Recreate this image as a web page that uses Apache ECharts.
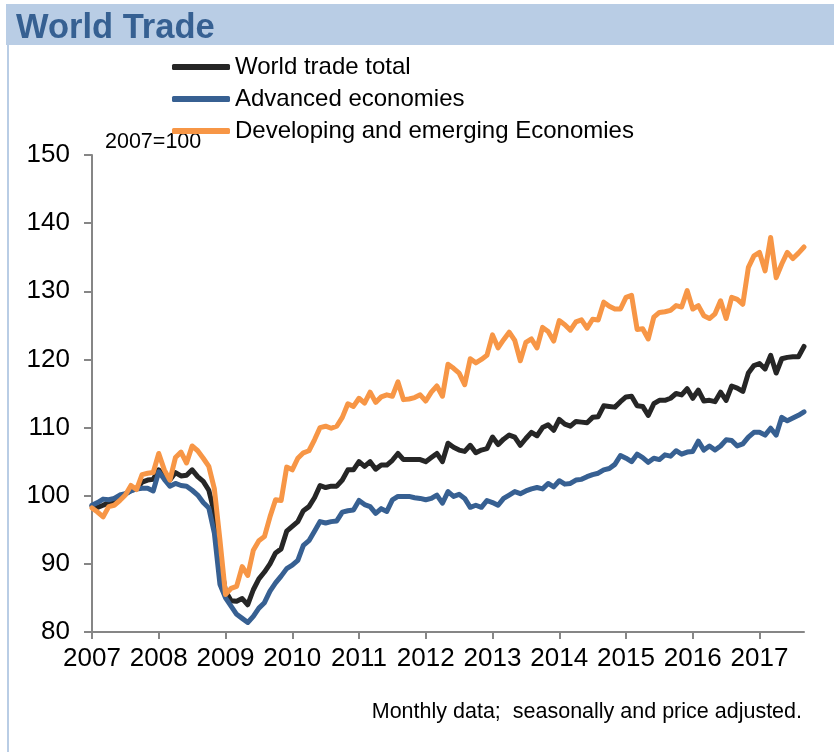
<!DOCTYPE html>
<html>
<head>
<meta charset="utf-8">
<script src="https://cdn.jsdelivr.net/npm/echarts@6/dist/echarts.min.js"></script>
<style>
html,body{margin:0;padding:0;background:#fff;}
#chart{width:834px;height:752px;}
</style>
</head>
<body>
<div id="chart"></div>
<script>
// Tick labels (years) and monthly categories
const years = ['2007','2008','2009','2010','2011','2012','2013','2014','2015','2016','2017'];
const seriesNames = ['World trade total','Advanced economies','Developing and emerging Economies'];

// Monthly indices, 2007=100 (Jan 2007 .. Sep 2017)
const worldTotal = [
  98.5, 98.3, 98.6, 99.0, 99.3, 99.6, 100.2, 100.8, 101.0, 102.0, 102.3, 102.4,
  103.8, 102.8, 102.3, 103.4, 102.9, 103.0, 103.8, 102.8, 102.1, 100.8, 97.5, 90.5,
  86.0, 84.6, 84.5, 84.9, 84.0, 86.2, 87.8, 88.8, 90.0, 91.6, 92.2, 94.8,
  95.5, 96.2, 97.8, 98.4, 99.7, 101.5, 101.2, 101.4, 101.4, 102.3, 103.8, 103.8,
  105.0, 104.3, 105.0, 103.9, 104.5, 104.5, 105.2, 106.2, 105.3, 105.3, 105.3, 105.3,
  105.0, 105.6, 106.2, 105.0, 107.7, 107.1, 106.7, 106.5, 107.4, 106.3, 106.7, 106.9,
  108.6, 107.5, 108.3, 108.9, 108.6, 107.4, 108.4, 109.3, 108.8, 110.0, 110.4, 109.6,
  111.2, 110.5, 110.2, 110.9, 110.8, 110.7, 111.5, 111.6, 113.2, 113.1, 113.0, 113.8,
  114.5, 114.6, 113.2, 113.1, 111.8, 113.5, 114.0, 114.0, 114.3, 115.0, 114.8, 115.7,
  114.3, 115.5, 113.9, 114.0, 113.8, 115.2, 114.0, 116.1, 115.8, 115.3, 118.0, 119.1,
  119.4, 118.6, 120.6, 118.0, 120.1, 120.3, 120.4, 120.4, 121.9
];
const advanced = [
  98.6, 99.0, 99.5, 99.4, 99.6, 100.1, 100.3, 100.7, 101.0, 101.1, 101.1, 100.7,
  103.5, 102.4, 101.4, 101.8, 101.5, 101.4, 100.8, 100.1, 99.0, 98.2, 94.5, 87.0,
  85.0, 83.8, 82.6, 82.0, 81.4, 82.3, 83.5, 84.3, 86.0, 87.2, 88.2, 89.3,
  89.8, 90.5, 92.7, 93.4, 94.8, 96.2, 96.0, 96.2, 96.3, 97.6, 97.8, 97.9,
  99.3, 98.7, 98.4, 97.4, 98.1, 97.7, 99.4, 99.9, 99.9, 99.9, 99.7, 99.6,
  99.4, 99.6, 100.1, 98.9, 100.6, 99.9, 100.2, 99.6, 98.3, 98.6, 98.3, 99.3,
  99.0, 98.6, 99.6, 100.1, 100.6, 100.3, 100.7, 101.0, 101.2, 101.0, 101.8, 101.3,
  102.2, 101.7, 101.8, 102.3, 102.4, 102.8, 103.1, 103.3, 103.8, 104.0, 104.6, 105.9,
  105.5, 105.0, 106.1, 105.6, 104.9, 105.5, 105.3, 106.0, 105.8, 106.6, 106.1, 106.4,
  106.5, 108.0, 106.7, 107.3, 106.7, 107.3, 108.2, 108.1, 107.3, 107.6, 108.6, 109.3,
  109.3, 108.9, 109.9, 108.9, 111.5, 111.0, 111.4, 111.8, 112.3
];
const developing = [
  98.2, 97.6, 96.9, 98.4, 98.6, 99.3, 100.1, 101.5, 100.9, 103.1, 103.3, 103.4,
  106.2, 103.8, 102.3, 105.6, 106.4, 104.8, 107.3, 106.6, 105.5, 104.3, 101.0, 93.5,
  85.5, 86.4, 86.7, 89.6, 88.3, 92.0, 93.4, 94.0, 96.9, 99.4, 99.3, 104.2,
  103.8, 105.5, 106.3, 106.6, 108.2, 110.0, 110.2, 109.9, 110.2, 111.5, 113.5, 113.1,
  114.3, 113.6, 115.2, 113.7, 114.5, 114.8, 114.6, 116.7, 114.1, 114.2, 114.4, 114.8,
  113.9, 115.2, 116.1, 114.6, 119.3, 118.7, 118.0, 116.3, 120.1, 119.5, 120.0, 120.6,
  123.6, 121.7, 122.9, 124.0, 122.8, 119.8, 122.5, 123.0, 121.7, 124.7, 124.1, 122.7,
  125.7, 125.1, 124.3, 125.5, 125.8, 124.6, 125.9, 125.8, 128.4, 127.8, 127.4, 127.4,
  129.1, 129.4, 124.4, 124.5, 123.0, 126.2, 126.9, 127.0, 127.2, 127.9, 127.7, 130.1,
  127.4, 127.9, 126.4, 126.0, 126.7, 128.6, 126.0, 129.1, 128.8, 128.1, 133.5, 135.2,
  135.7, 133.0, 137.9, 132.0, 134.0, 135.7, 134.8, 135.6, 136.5
];

const months = [];
years.forEach(function (y) {
  for (let m = 1; m <= 12; m++) {
    if (months.length < worldTotal.length) months.push(y + '-' + (m < 10 ? '0' + m : m));
  }
});

const FONT = '"Liberation Sans", Arial, sans-serif';
const chart = echarts.init(document.getElementById('chart'), null, {renderer: 'canvas'});
const yearTick = function (i) { return i % 12 === 0; };

chart.setOption({
  animation: false,
  backgroundColor: '#ffffff',
  title: {
    text: 'World Trade',
    left: 11, top: 6,
    textStyle: {fontFamily: FONT, fontSize: 34.5, fontWeight: 'bold', color: '#366092'}
  },
  graphic: [
    {type: 'rect', z: -10, shape: {x: 6, y: 4, width: 828, height: 41}, style: {fill: '#b9cde5'}},
    {type: 'rect', z: -10, shape: {x: 7, y: 45, width: 2, height: 707}, style: {fill: '#b9cde5'}},
    {type: 'text', x: 105, y: 142, style: {text: '2007=100', font: '21.5px ' + FONT, fill: '#000', textVerticalAlign: 'middle'}},
    {type: 'text', x: 802, y: 712, style: {text: 'Monthly data;  seasonally and price adjusted.', font: '21.5px ' + FONT, fill: '#000', textAlign: 'right', textVerticalAlign: 'middle'}}
  ],
  legend: {
    data: seriesNames,
    orient: 'vertical',
    left: 172, top: 55, padding: 0,
    itemWidth: 58, itemHeight: 6, itemGap: 8,
    icon: 'roundRect',
    textStyle: {fontFamily: FONT, fontSize: 24, color: '#000', lineHeight: 24}
  },
  grid: {left: 92, right: 30, top: 155, bottom: 120},
  xAxis: {
    type: 'category',
    data: months,
    boundaryGap: false,
    axisLine: {lineStyle: {color: '#868686', width: 2}},
    axisTick: {show: true, length: 7, interval: yearTick, lineStyle: {color: '#868686', width: 2}},
    axisLabel: {interval: yearTick, formatter: function (v) { return v.slice(0, 4); }, fontFamily: FONT, fontSize: 26, color: '#000', margin: 14},
    splitLine: {show: false}
  },
  yAxis: {
    type: 'value',
    min: 80, max: 150, interval: 10,
    axisLine: {show: true, lineStyle: {color: '#868686', width: 2}},
    axisTick: {show: true, length: 8, lineStyle: {color: '#868686', width: 2}},
    axisLabel: {fontFamily: FONT, fontSize: 26, color: '#000', margin: 22},
    splitLine: {show: false}
  },
  series: [
    {name: seriesNames[0], type: 'line', data: worldTotal, showSymbol: false, color: '#262626',
     lineStyle: {width: 5, color: '#262626', cap: 'round', join: 'round'}},
    {name: seriesNames[1], type: 'line', data: advanced, showSymbol: false, color: '#376092',
     lineStyle: {width: 5, color: '#376092', cap: 'round', join: 'round'}},
    {name: seriesNames[2], type: 'line', data: developing, showSymbol: false, color: '#f79646',
     lineStyle: {width: 5, color: '#f79646', cap: 'round', join: 'round'}}
  ]
});
</script>
</body>
</html>
